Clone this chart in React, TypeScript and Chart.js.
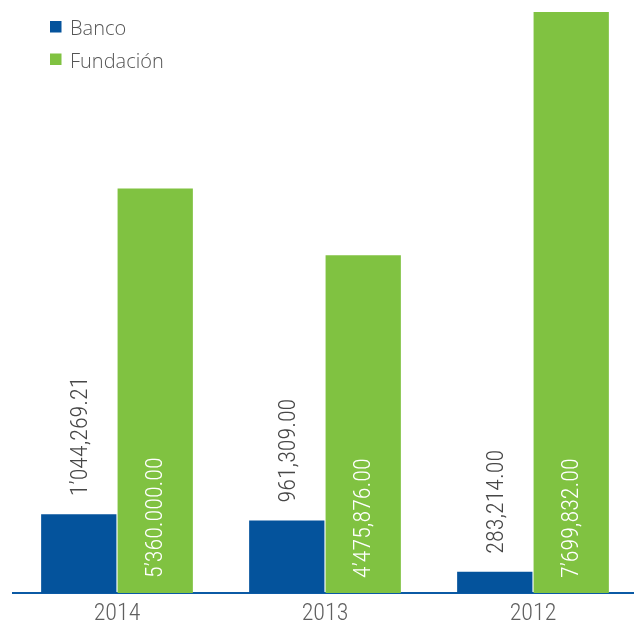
import React, { useEffect, useRef } from "react";
import { Chart, registerables } from "chart.js";

Chart.register(...registerables);

const categories = ["2014", "2013", "2012"];
const seriesNames = ["Banco", "Fundación"];
const bancoValues = [1044269.21, 961309.0, 283214.0];
const fundacionValues = [5360000.0, 4475876.0, 7699832.0];
const bancoLabels = ["1’044,269.21", "961,309.00", "283,214.00"];
const fundacionLabels = ["5’360.000.00", "4’475,876.00", "7’699,832.00"];

const BLUE = "#04539c";
const GREEN = "#80c241";
const AXIS = "#0b5aa5";
const NUM_FONT = "'Roboto Condensed', 'Roboto', sans-serif";
const TEXT_FONT = "'Open Sans', sans-serif";

const valueLabelPlugin = {
  id: "valueLabels",
  afterDatasetsDraw(chart: any) {
    const ctx = chart.ctx as CanvasRenderingContext2D;
    const all = [bancoLabels, fundacionLabels];
    chart.data.datasets.forEach((_ds: any, di: number) => {
      const meta = chart.getDatasetMeta(di);
      meta.data.forEach((bar: any, i: number) => {
        const { x, y, base } = bar.getProps(["x", "y", "base"], true);
        ctx.save();
        ctx.font = `300 24px ${NUM_FONT}`;
        ctx.textAlign = "left";
        ctx.textBaseline = "alphabetic";
        if (di === 0) {
          ctx.fillStyle = "#474747";
          ctx.translate(x + 8, y - 18);
        } else {
          ctx.fillStyle = "#ffffff";
          ctx.translate(x + 7, base - 15);
        }
        ctx.rotate(-Math.PI / 2);
        ctx.fillText(all[di][i], 0, 0);
        ctx.restore();
      });
    });
  },
};

const legendPlugin = {
  id: "sideLegend",
  afterDraw(chart: any) {
    const ctx = chart.ctx as CanvasRenderingContext2D;
    chart.data.datasets.forEach((ds: any, di: number) => {
      const top = 21 + di * 32.5;
      ctx.save();
      ctx.fillStyle = ds.backgroundColor;
      ctx.fillRect(50, top, 11.5, 11.5);
      ctx.fillStyle = "#555555";
      ctx.font = `300 20px ${TEXT_FONT}`;
      ctx.textAlign = "left";
      ctx.textBaseline = "alphabetic";
      ctx.fillText(ds.label, 70, top + 14);
      ctx.restore();
    });
  },
};

export default function App() {
  const ref = useRef<HTMLCanvasElement | null>(null);

  useEffect(() => {
    if (!ref.current) return;
    const chart = new Chart(ref.current, {
      type: "bar",
      data: {
        labels: categories,
        datasets: [
          { label: seriesNames[0], data: bancoValues, backgroundColor: BLUE },
          { label: seriesNames[1], data: fundacionValues, backgroundColor: GREEN },
        ],
      },
      options: {
        responsive: false,
        animation: false,
        layout: { padding: { left: 13, right: 0, top: 12, bottom: 0 } },
        datasets: { bar: { categoryPercentage: 0.735, barPercentage: 0.985 } } as any,
        plugins: {
          legend: { display: false },
          tooltip: { enabled: false },
        },
        scales: {
          x: {
            grid: { display: false, drawTicks: false },
            border: { display: true, color: AXIS, width: 2 },
            ticks: {
              color: "#5f5f5f",
              padding: 6.1,
              font: { family: NUM_FONT, size: 24, weight: "300" as any },
            },
          },
          y: { display: false, min: 0, max: 7699832 },
        },
      },
      plugins: [valueLabelPlugin, legendPlugin],
    });
    return () => chart.destroy();
  }, []);

  return (
    <div
      style={{
        position: "absolute",
        left: 0,
        top: 0,
        width: 634,
        height: 622,
        overflow: "hidden",
        background: "#ffffff",
      }}
    >
      <canvas ref={ref} width={637} height={634} style={{ display: "block" }} />
    </div>
  );
}
